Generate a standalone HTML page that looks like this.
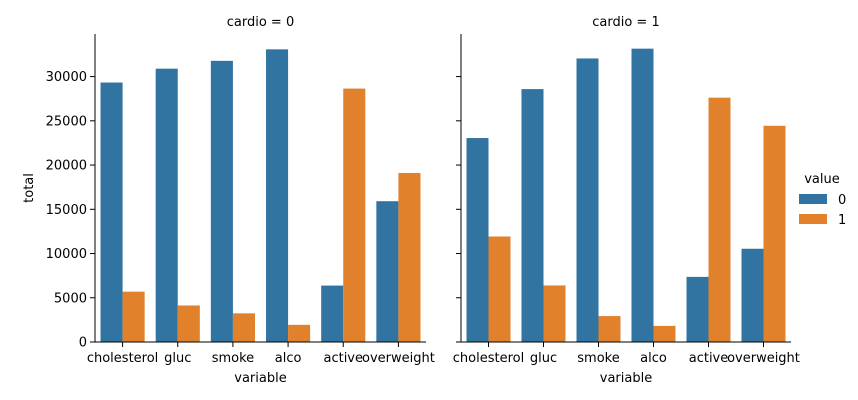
<!DOCTYPE html>
<html><head><meta charset="utf-8"><style>
body{margin:0;background:#fff;}
svg{display:block;font-family:"DejaVu Sans","Liberation Sans",sans-serif;}
</style></head><body>
<svg id="chart" width="858" height="400" viewBox="0 0 858 400"></svg>
<script>
const categories=["cholesterol","gluc","smoke","alco","active","overweight"];
const panelTitles=["cardio = 0","cardio = 1"];
const cardio0Value0=[29330,30894,31781,33080,6378,15915];
const cardio0Value1=[5691,4127,3240,1941,28643,19106];
const cardio1Value0=[23055,28585,32050,33156,7361,10539];
const cardio1Value1=[11924,6394,2929,1823,27618,24440];
const yTicks=[0,5000,10000,15000,20000,25000,30000];
const legendLabels=["0","1"];

const NS="http://www.w3.org/2000/svg";
const svg=document.getElementById('chart');
const colors=["#3274a1","#e1812c"];
const yMax=34814, y0=342, yTop=34;
function yScale(v){return y0-(v/yMax)*(y0-yTop);}
function mk(tag,attrs,parent){const e=document.createElementNS(NS,tag);for(const k in attrs)e.setAttribute(k,attrs[k]);(parent||svg).appendChild(e);return e;}
function txt(s,attrs,parent){const e=mk('text',attrs,parent);e.textContent=s;return e;}

const panels=[{x0:95,x1:426,series:[cardio0Value0,cardio0Value1]},{x0:461,x1:791,series:[cardio1Value0,cardio1Value1]}];
panels.forEach((p,pi)=>{
  const g=mk('g',{});
  
  
  const bw=(p.x1-p.x0)/categories.length;
  function xScale(i){return p.x0+bw*(i+0.5);}
  const barW=bw*0.8/2;
  p.series.forEach((vals,si)=>{
    vals.forEach((v,i)=>{
      const x=xScale(i)-bw*0.4+si*barW;
      const r=mk('rect',{x:x,y:yScale(v),width:barW,height:y0-yScale(v),fill:colors[si]},g);
      
      
    });
  });
  // axes
  const ya=mk('line',{x1:p.x0,y1:yTop,x2:p.x0,y2:y0,stroke:'#000','stroke-width':1},g);
  
  
  const xa=mk('line',{x1:p.x0,y1:y0,x2:p.x1,y2:y0,stroke:'#000','stroke-width':1},g);
  
  
  yTicks.forEach(t=>{
    mk('line',{x1:p.x0-5,y1:yScale(t),x2:p.x0,y2:yScale(t),stroke:'#000'},g);
    if(pi===0){
      const l=txt(String(t),{x:p.x0-8,y:yScale(t)+4.5,'text-anchor':'end','font-size':13},g);
      
      
    }
  });
  categories.forEach((c,i)=>{
    mk('line',{x1:xScale(i),y1:y0,x2:xScale(i),y2:y0+5,stroke:'#000'},g);
    const l=txt(c,{x:xScale(i),y:y0+20,'text-anchor':'middle','font-size':13},g);
    
    
  });
  const xt=txt('variable',{x:(p.x0+p.x1)/2,y:y0+40,'text-anchor':'middle','font-size':13},g);
  
  
  const pt=txt(panelTitles[pi],{x:(p.x0+p.x1)/2,y:26,'text-anchor':'middle','font-size':13},g);
  
  
});
const yt=txt('total',{x:0,y:0,'text-anchor':'middle','font-size':13,transform:'translate(33,188) rotate(-90)'});


const lg=mk('g',{});


const lt=txt('value',{x:822,y:183,'text-anchor':'middle','font-size':13},lg);


legendLabels.forEach((s,i)=>{
  const e=mk('g',{},lg);
  
  
  mk('rect',{x:799,y:194+i*20,width:28,height:10,fill:colors[i]},e);
  txt(s,{x:838,y:204+i*20,'font-size':13},e);
});
</script>
</body></html>
